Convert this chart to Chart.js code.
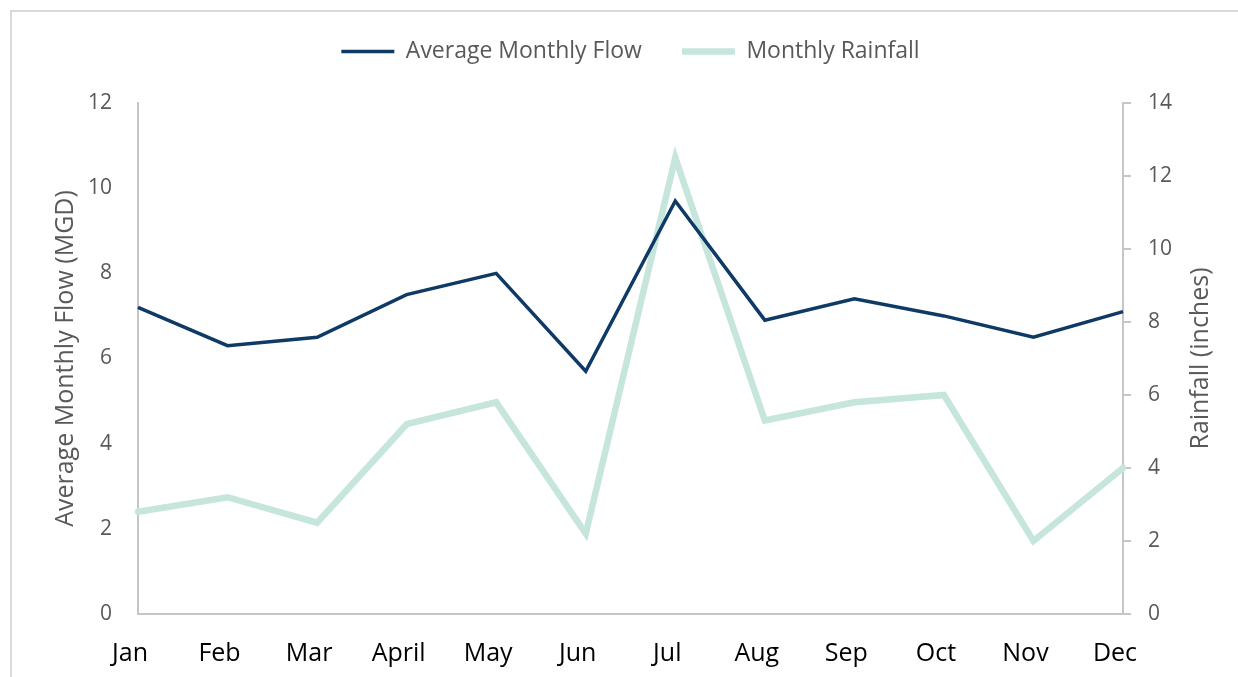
<!DOCTYPE html>
<html>
<head>
<meta charset="utf-8">
<script src="https://cdn.jsdelivr.net/npm/chart.js@4"></script>
<style>
  html, body { margin: 0; padding: 0; background: #fff; overflow: hidden; }
  #wrap { position: relative; width: 1238px; height: 677px; }
  #frame { position: absolute; left: 10px; top: 10px; width: 1300px; height: 800px; border: 2px solid #d9d9d9; }
  #chartFlow { position: absolute; left: 0; top: 0; }
</style>
</head>
<body>
<div id="wrap">
  <div id="frame"></div>
  <canvas id="chartFlow" width="1238" height="677"></canvas>
</div>
<script>
// Data
const months = ["Jan", "Feb", "Mar", "April", "May", "Jun", "Jul", "Aug", "Sep", "Oct", "Nov", "Dec"];
const avgFlow = [7.2, 6.3, 6.5, 7.5, 8.0, 5.7, 9.7, 6.9, 7.4, 7.0, 6.5, 7.1];
const rainfall = [2.8, 3.2, 2.5, 5.2, 5.8, 2.2, 12.5, 5.3, 5.8, 6.0, 2.0, 4.0];

const GRAY_TEXT = "#595959";
const AXIS_LINE = "#c6c6c6";

Chart.defaults.font.family = "'Open Sans', sans-serif";
Chart.defaults.color = GRAY_TEXT;

// push the plot area down below the legend
const legendGap = {
  id: "legendGap",
  beforeInit(chart) {
    const fit = chart.legend.fit;
    chart.legend.fit = function () {
      fit.bind(chart.legend)();
      this.height += 30;
    };
  },
};

// right axis title reads bottom-to-top like the left one
const rightTitle = {
  id: "rightTitle",
  afterDraw(chart) {
    const s = chart.scales.y1;
    const ctx = chart.ctx;
    ctx.save();
    ctx.translate(s.right - 37, (s.top + s.bottom) / 2);
    ctx.rotate(-Math.PI / 2);
    ctx.font = "25px 'Open Sans', sans-serif";
    ctx.fillStyle = GRAY_TEXT;
    ctx.textAlign = "center";
    ctx.textBaseline = "middle";
    ctx.fillText("Rainfall (inches)", 0, 0);
    ctx.restore();
  },
};

const ctx = document.getElementById("chartFlow");
new Chart(ctx, {
  type: "line",
  data: {
    labels: months,
    datasets: [
      {
        label: "Average Monthly Flow",
        data: avgFlow,
        yAxisID: "y",
        borderColor: "#0f3a66",
        backgroundColor: "#0f3a66",
        borderWidth: 3.5,
        pointRadius: 0,
        tension: 0,
      },
      {
        label: "Monthly Rainfall",
        data: rainfall,
        yAxisID: "y1",
        borderColor: "#c5e5dd",
        backgroundColor: "#c5e5dd",
        borderWidth: 6.5,
        borderCapStyle: "round",
        pointRadius: 0,
        tension: 0,
      },
    ],
  },
  options: {
    responsive: false,
    animation: false,
    layout: { padding: { top: 0, left: 0, right: 0, bottom: 0 } },
    plugins: {
      legend: {
        position: "top",
        fullSize: false,
        labels: {
          usePointStyle: true,
          pointStyle: "line",
          pointStyleWidth: 53,
          padding: 40,
          color: GRAY_TEXT,
          font: { size: 23 },
        },
      },
      tooltip: { enabled: false },
    },
    scales: {
      x: {
        offset: false,
        grid: { display: false, drawTicks: false },
        border: { display: true, color: AXIS_LINE, width: 2 },
        ticks: { color: "#000", font: { size: 25 }, padding: 25, labelOffset: -8, autoSkip: false, maxRotation: 0 },
        afterFit: s => { s.height = 63; },
      },
      y: {
        position: "left",
        min: 0,
        max: 12,
        grid: { display: false, drawTicks: false },
        border: { display: true, color: AXIS_LINE, width: 2 },
        ticks: { stepSize: 2, padding: 26, font: { size: 21 }, color: GRAY_TEXT },
        title: {
          display: true,
          text: "Average Monthly Flow (MGD)",
          font: { size: 25 },
          color: GRAY_TEXT,
          padding: { top: 51, bottom: 0 },
        },
        afterFit: s => { s.width = 138; },
      },
      y1: {
        position: "right",
        min: 0,
        max: 14,
        grid: { display: true, drawOnChartArea: false, drawTicks: true, tickLength: 8, color: AXIS_LINE, lineWidth: 2 },
        border: { display: true, color: AXIS_LINE, width: 2 },
        ticks: { stepSize: 2, padding: 17, font: { size: 21 }, color: GRAY_TEXT },
        afterFit: s => { s.width = 115; },
      },
    },
  },
  plugins: [legendGap, rightTitle],
});
</script>
</body>
</html>
